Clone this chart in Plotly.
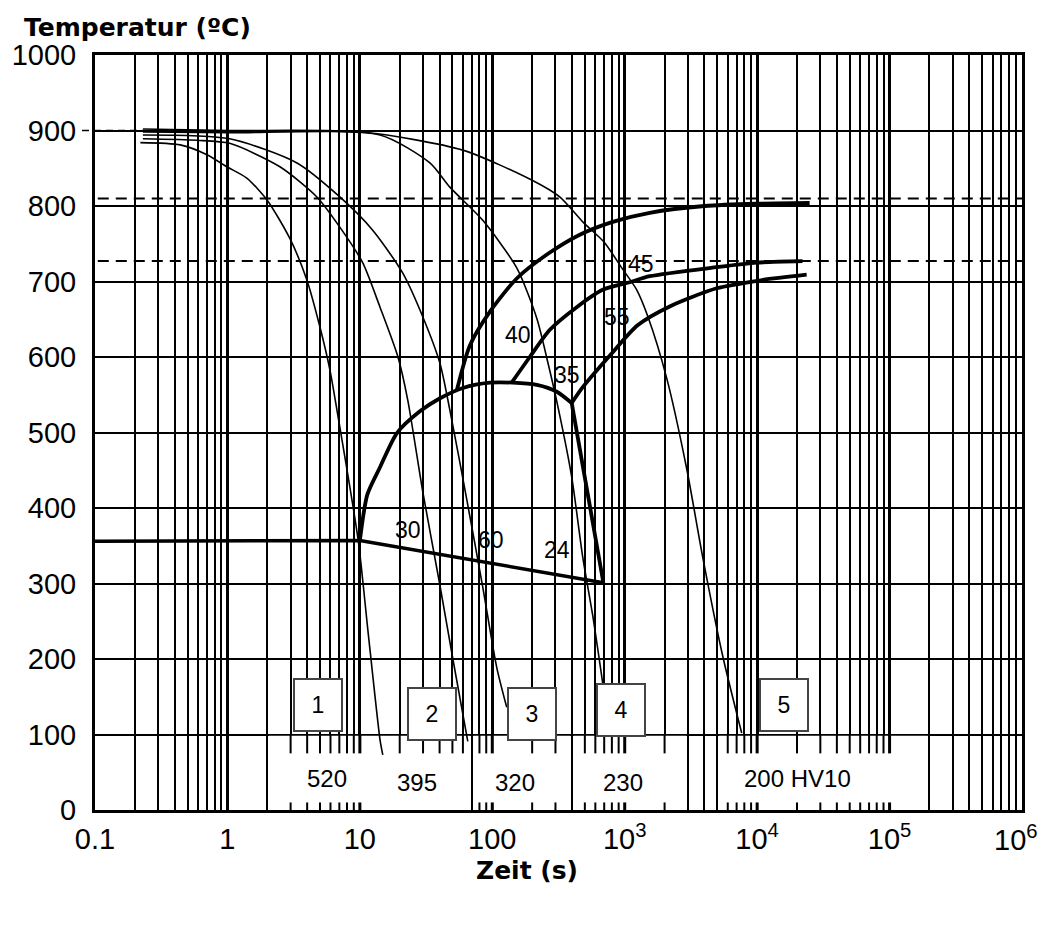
import numpy as np
import plotly.graph_objects as go

# ---------------- data (time in s, temperature in °C) ----------------
# thin cooling curves 1..5
t_c1 = [0.22, 0.44, 0.70, 0.99, 1.40, 1.99, 2.96, 3.98, 4.99, 5.94, 6.71, 9.7, 11.5, 14.2, 14.9]
T_c1 = [884, 881, 868, 852, 837, 808, 757, 702, 640, 583, 530, 358, 238, 93, 73]
t_c2 = [0.23, 0.59, 1.04, 2.49, 4.74, 7.06, 10.5, 14.2, 19.4, 23, 29.9, 40.2, 50.4, 65.3]
T_c2 = [889, 887, 883, 852, 812, 772, 725, 666, 600, 543, 421, 298, 200, 91]
t_c3 = [0.23, 1.04, 3.35, 7.06, 12.5, 21.1, 29.9, 40.2, 47.8, 64.2, 84.8, 108, 128.6]
T_c3 = [894, 889, 857, 812, 768, 711, 653, 592, 530, 411, 295, 189, 136]
t_c4 = [0.23, 1.04, 14.2, 33.8, 47.8, 84.8, 153, 217, 265, 315, 398, 482, 574, 682]
T_c4 = [898, 897, 894, 857, 825, 781, 718, 651, 590, 532, 441, 335, 257, 168]
t_c5 = [0.23, 1.04, 10.5, 59.9, 200, 323, 482, 700, 950, 1232, 1500, 2075, 2938, 3881, 5495, 7643]
T_c5 = [902, 900, 898, 874, 834, 812, 779, 752, 718, 689, 653, 572, 452, 335, 204, 102]

# thick transformation lines
t_ms = [0.1, 10, 690]
T_ms = [356, 357, 301]
t_bs = [10, 11.4, 14.2, 19.0, 28.4, 40, 60, 96, 143, 217, 307, 398]
T_bs = [357, 418, 454, 499, 528, 545, 559, 566, 566, 563, 554, 539]
t_bf = [398, 690]
T_bf = [539, 301]
t_fs = [54, 67.6, 96, 153, 265, 458, 812, 1545, 4000, 10000, 24900]
T_fs = [556, 615, 660, 704, 737, 762, 779, 791, 800, 803, 804]
t_ps = [140, 192, 272, 434, 682, 1091, 1545, 4946, 9910, 22000]
T_ps = [566, 600, 636, 666, 689, 699, 707, 719, 725, 727]
t_p2 = [398, 482, 800, 1250, 2187, 4946, 11000, 23650]
T_p2 = [539, 560, 605, 642, 667, 691, 702, 709]

# critical temperatures (dashed)
T_ac3 = 810
T_ac1 = 727
T_aust = 900

# labels on the transformation lines
lab_text = ["40", "35", "55", "45", "30", "60", "24"]
lab_t = [156, 365, 871, 1321, 23, 97.4, 307]
lab_T = [629, 576, 653, 723, 371, 358, 344]

# curve numbers
box_text = ["1", "2", "3", "4", "5"]
box_t = [4.82, 34.9, 198.6, 933, 15850]
box_T = [139, 127, 127, 132, 139]

# hardness values
hv_text = ["520", "395", "320", "230", "200 HV10"]
hv_t = [5.64, 26.9, 148, 966, 20200]
hv_T = [42, 36, 37, 37, 42]

# white bands for hardness values (time intervals)
band_t0 = [2, 70, 400, 5000]
band_t1 = [70, 400, 3000, 2e5]

# axis ticks (last label drawn as an annotation so it is not cut at the edge)
x_tickvals = [0.1, 1, 10, 100, 1e3, 1e4, 1e5, 1e6]
x_ticktext = ["0.1", "1", "10", "100", "10<sup>3</sup>", "10<sup>4</sup>", "10<sup>5</sup>", ""]
x_last_label = "10<sup>6</sup>"
y_tickvals = list(range(0, 1001, 100))
grid_t = [k * 10.0 ** d for d in range(-1, 6) for k in range(1, 10)] + [1e6]
no_bottom_tick = [20, 30, 40, 50, 60]

# ---------------- figure ----------------
fig = go.Figure()

def add_curve(t, T, w, shape="spline"):
    fig.add_trace(go.Scatter(x=t, y=T, mode="lines",
                             line=dict(color="black", width=w, shape=shape, smoothing=0.7),
                             hoverinfo="skip", showlegend=False))

for t, T in [(t_c1, T_c1), (t_c2, T_c2), (t_c3, T_c3), (t_c4, T_c4), (t_c5, T_c5)]:
    add_curve(t, T, 1.6)

add_curve(t_ms, T_ms, 3.5, "linear")
add_curve(t_bs, T_bs, 3.8)
add_curve(t_bf, T_bf, 3.8, "linear")
add_curve(t_fs, T_fs, 3.8)
add_curve(t_ps, T_ps, 3.8)
add_curve(t_p2, T_p2, 3.8)

shapes = []
# white bands covering the grid in 0..100 °C
for a, b in zip(band_t0, band_t1):
    shapes.append(dict(type="rect", xref="x", yref="y", x0=a * 1.03, x1=b / 1.03, y0=0, y1=98.5,
                       fillcolor="white", line=dict(width=0), layer="between"))
    for g in grid_t:
        if a * 1.001 < g < b / 1.001:
            lw = 3 if abs(np.log10(g) - round(np.log10(g))) < 1e-9 else 2
            shapes.append(dict(type="line", xref="x", yref="y", x0=g, x1=g, y0=100, y1=75,
                               line=dict(color="black", width=lw), layer="between"))
            if not any(abs(g - v) < 1e-6 for v in no_bottom_tick):
                shapes.append(dict(type="line", xref="x", yref="y", x0=g, x1=g, y0=0, y1=10,
                                   line=dict(color="black", width=lw), layer="between"))

# dashed critical-temperature lines
for Tc in [T_ac3, T_ac1]:
    shapes.append(dict(type="line", xref="paper", yref="y", x0=0.003, x1=1, y0=Tc, y1=Tc,
                       line=dict(color="black", width=2, dash="11px,7px"), layer="between"))
x_start = (np.log10(min(t_c2)) + 1) / 7
shapes.append(dict(type="line", xref="paper", yref="y", x0=-0.014, x1=x_start, y0=T_aust, y1=T_aust,
                   line=dict(color="black", width=1.5, dash="7px,5px"), layer="above"))

annotations = []
for s, t, T in zip(lab_text, lab_t, lab_T):
    annotations.append(dict(x=np.log10(t), y=T, xref="x", yref="y", text=s, showarrow=False,
                            font=dict(family="Liberation Sans", size=23, color="black")))
for s, t, T in zip(box_text, box_t, box_T):
    annotations.append(dict(x=np.log10(t), y=T, xref="x", yref="y", text=s, showarrow=False,
                            font=dict(family="Liberation Sans", size=23, color="black"),
                            bgcolor="white", bordercolor="#444444", borderwidth=2, borderpad=0,
                            width=46, height=50))
for s, t, T in zip(hv_text, hv_t, hv_T):
    annotations.append(dict(x=np.log10(t), y=T, xref="x", yref="y", text=s, showarrow=False,
                            font=dict(family="Liberation Sans", size=24, color="black")))

annotations.append(dict(x=1.0194, y=-0.037, xref="paper", yref="paper", xanchor="right", yanchor="middle",
                        text=x_last_label, showarrow=False,
                        font=dict(family="Liberation Sans", size=29, color="black")))
annotations.append(dict(x=-0.0787, y=1.0365, xref="paper", yref="paper", xanchor="left", yanchor="middle",
                        text="<b>Temperatur (ºC)</b>", showarrow=False,
                        font=dict(family="DejaVu Sans", size=25, color="black")))
annotations.append(dict(x=0.466, y=-0.0795, xref="paper", yref="paper", xanchor="center", yanchor="middle",
                        text="<b>Zeit (s)</b>", showarrow=False,
                        font=dict(family="DejaVu Sans", size=25, color="black")))

fig.update_layout(
    width=1041, height=903,
    margin=dict(l=87, r=27, t=47, b=101, autoexpand=False),
    plot_bgcolor="white", paper_bgcolor="white",
    showlegend=False,
    shapes=shapes, annotations=annotations,
    xaxis=dict(type="log", range=[-1, 6], tickmode="array", tickvals=x_tickvals, ticktext=x_ticktext,
               showgrid=True, gridcolor="black", gridwidth=3,
               minor=dict(tickmode="array", tickvals=grid_t, showgrid=True, gridcolor="black", gridwidth=2, ticks=""),
               showline=True, linecolor="black", linewidth=3, mirror=True, ticks="",
               ticklabelstandoff=1, zeroline=False, automargin=False,
               tickfont=dict(family="Liberation Sans", size=29, color="black")),
    yaxis=dict(range=[0, 1000], tickmode="array", tickvals=y_tickvals,
               showgrid=True, gridcolor="black", gridwidth=2,
               showline=True, linecolor="black", linewidth=3, mirror=True, ticks="",
               ticklabelstandoff=10, zeroline=False, automargin=False,
               tickfont=dict(family="Liberation Sans", size=29, color="black")),
)

fig.write_html("out.html")
